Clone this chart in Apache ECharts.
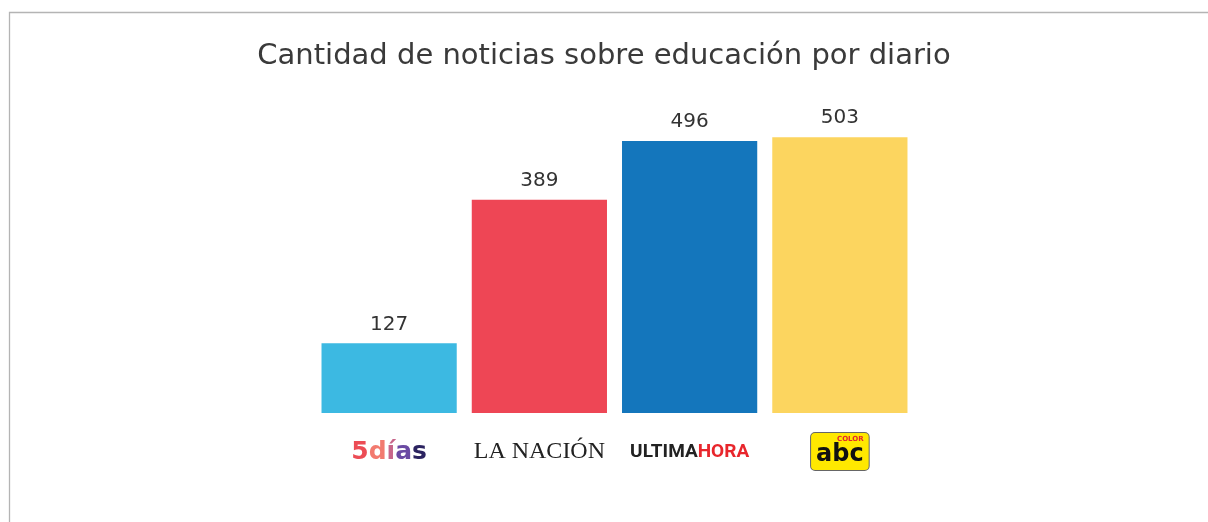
<!DOCTYPE html>
<html>
<head>
<meta charset="utf-8">
<script src="https://cdn.jsdelivr.net/npm/echarts@6/dist/echarts.min.js"></script>
<style>
  html, body { margin: 0; padding: 0; background: #fff; }
  #chart { width: 1208px; height: 522px; }
</style>
</head>
<body>
<div id="chart"></div>
<script>
// datos
const diarios = ['5dias', 'lanacion', 'ultimahora', 'abc'];
const noticias = [127, 389, 496, 503];
const colores = ['#3cb9e2', '#ee4655', '#1476bc', '#fcd55f'];

const chart = echarts.init(document.getElementById('chart'));

// logos de cada diario como texto enriquecido
const logos = {
  '5dias': '{d1|5}{d2|d}{d3|í}{d4|a}{d5|s}',
  'lanacion': '{ln|LA NACIÓN}',
  'ultimahora': '{u1|ULTIMA}{u2|HORA}',
  'abc': '{c|COLOR}\n{abc|abc}'
};

const heavy = { fontFamily: 'DejaVu Sans', fontWeight: 'bold', fontSize: 25, lineHeight: 38 };

const option = {
  backgroundColor: '#fff',
  animation: false,
  title: {
    text: 'Cantidad de noticias sobre educación por diario',
    left: 'center',
    top: 37,
    textStyle: { fontFamily: 'DejaVu Sans', fontWeight: 'normal', fontSize: 29, color: '#3a3a3a' }
  },
  graphic: [{
    type: 'rect',
    shape: { x: 9.5, y: 12.5, width: 1400, height: 700 },
    style: { fill: 'none', stroke: '#b4b4b4', lineWidth: 1.3 },
    silent: true
  }],
  grid: { left: 314, right: 293, top: 84, bottom: 109 },
  xAxis: {
    type: 'category',
    data: diarios.map(d => d === 'abc' ? {
      value: d,
      textStyle: {
        backgroundColor: '#ffe800', borderColor: '#666', borderWidth: 1, borderRadius: 4,
        padding: [2, 5, 3, 5]
      }
    } : d),
    axisLine: { show: false },
    axisTick: { show: false },
    axisLabel: {
      interval: 0,
      hideOverlap: false,
      margin: 20,
      formatter: v => logos[v],
      rich: {
        d1: Object.assign({ color: '#ec4c55' }, heavy),
        d2: Object.assign({ color: '#f27a6f' }, heavy),
        d3: Object.assign({ color: '#c8668a' }, heavy),
        d4: Object.assign({ color: '#6a4aa3' }, heavy),
        d5: Object.assign({ color: '#2b2360' }, heavy),
        ln: { fontFamily: 'Liberation Serif', fontSize: 24, color: '#222', lineHeight: 38 },
        u1: { fontFamily: 'Roboto', fontWeight: 'bold', fontSize: 19, color: '#222', lineHeight: 38 },
        u2: { fontFamily: 'Roboto', fontWeight: 'bold', fontSize: 19, color: '#e8262c', lineHeight: 38 },
        c: {
          fontFamily: 'DejaVu Sans', fontWeight: 'bold', fontSize: 7, color: '#e3262c',
          align: 'right', lineHeight: 8
        },
        abc: {
          fontFamily: 'DejaVu Sans', fontWeight: 'bold', fontSize: 24, color: '#111',
          lineHeight: 24
        }
      }
    }
  },
  yAxis: {
    type: 'value',
    min: 0,
    max: 600,
    show: false,
    splitLine: { show: false }
  },
  series: [{
    type: 'bar',
    barWidth: '90%',
    data: noticias.map((v, i) => ({ value: v, itemStyle: { color: colores[i] } })),
    label: {
      show: true,
      position: 'top',
      distance: 9,
      fontFamily: 'DejaVu Sans',
      fontSize: 20,
      color: '#333'
    }
  }]
};

chart.setOption(option);
</script>
</body>
</html>
